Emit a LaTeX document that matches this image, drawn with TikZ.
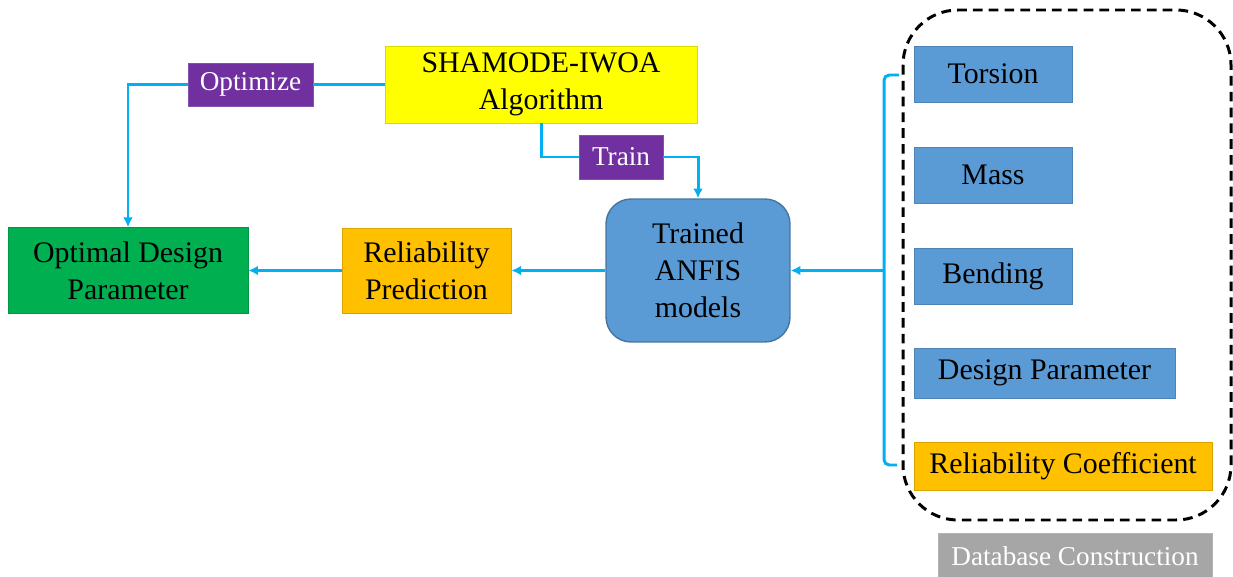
\documentclass[tikz,border=0pt]{standalone}
\usepackage{fontspec}
\setmainfont{Liberation Serif}
\usetikzlibrary{arrows.meta}

\definecolor{flowcyan}{HTML}{00B0F0}
\definecolor{labpurple}{HTML}{7030A0}
\definecolor{algoyellow}{HTML}{FFFF00}
\definecolor{optgreen}{HTML}{00B050}
\definecolor{relorange}{HTML}{FFC000}
\definecolor{datablue}{HTML}{5B9BD5}
\definecolor{dbgray}{HTML}{A6A6A6}

\tikzset{
  box/.style={fill=#1, draw=#1!85!black, line width=0.4pt, inner sep=0pt,
    align=center, font=\fontsize{17}{21}\selectfont},
  tag/.style={fill=#1, draw=#1!85!white, line width=0.4pt, inner sep=0pt,
    text=white, font=\fontsize{15.5}{18}\selectfont},
  flow/.style={draw=flowcyan, line width=1.7pt, -{Latex[length=5.5pt,width=5.5pt]}},
  link/.style={draw=flowcyan, line width=1.7pt}
}

\begin{document}
\begin{tikzpicture}[x=0.02cm,y=-0.02cm]
  \useasboundingbox (0,0) rectangle (1233,577);

  % left part of the flow
  \node[box=algoyellow, minimum width=6.24cm, minimum height=1.54cm] (algo) at (541,84.5) {SHAMODE-IWOA\\Algorithm};
  \node[tag=labpurple, minimum width=2.5cm, minimum height=0.86cm] (opt) at (250.5,84.5) {Optimize};
  \node[tag=labpurple, minimum width=1.68cm, minimum height=0.88cm] (train) at (621,157) {Train};
  \node[box=datablue, draw=datablue!75!black, line width=0.8pt, rounded corners=0.5cm,
    minimum width=3.68cm, minimum height=2.86cm] (anfis) at (698,270.5) {Trained\\ANFIS\\models};
  \node[box=relorange, minimum width=3.38cm, minimum height=1.7cm] (relpred) at (426.5,270.5) {Reliability\\Prediction};
  \node[box=optgreen, minimum width=4.8cm, minimum height=1.72cm] (optdes) at (128,270.5) {Optimal Design\\Parameter};

  % database entries
  \foreach \name/\txt/\y in {torsion/Torsion/74, mass/Mass/175, bending/Bending/276} {
    \node[box=datablue, minimum width=3.16cm, minimum height=1.12cm] (\name) at (993,\y) {\txt};
  }
  \node[box=datablue, minimum width=5.22cm, minimum height=1cm] (despar) at (1044.5,373) {Design Parameter};
  \node[box=relorange, minimum width=5.96cm, minimum height=0.96cm] (relcoef) at (1063,466) {Reliability Coefficient};

  \draw[black, line width=1.7pt, dash pattern=on 5.5pt off 3.5pt, rounded corners=1.1cm]
    (903,10) rectangle (1231,520);
  \node[tag=dbgray, minimum width=5.48cm, minimum height=0.92cm] (db) at (1075,556) {Database Construction};

  % connectors
  \draw[link] (algo.west) -- (opt.east);
  \draw[flow] (opt.west) -| (optdes.north);
  \draw[link] (algo.south) |- (train.west);
  \draw[flow] (train.east) -| (anfis.north);
  \draw[flow] (anfis.west) -- (relpred.east);
  \draw[flow] (relpred.west) -- (optdes.east);

  % bracket gathering the database
  \coordinate (btop) at (899,75);
  \coordinate (bbot) at (897,465);
  \coordinate (bmid) at (884,270.5);
  \draw[link, rounded corners=3pt] (btop) -- (884,75) -- (884,465) -- (bbot);
  \draw[flow] (bmid) -- (anfis.east);
\end{tikzpicture}
\end{document}
